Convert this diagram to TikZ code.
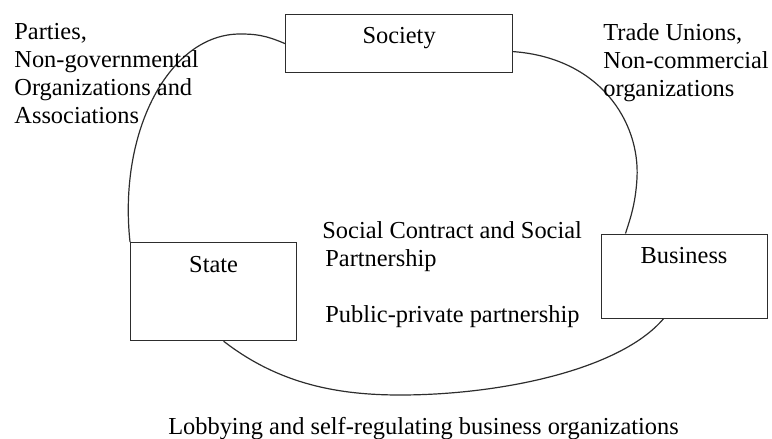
\documentclass[tikz,border=0pt]{standalone}
\usepackage{fontspec}
\setmainfont{Liberation Serif}
\usetikzlibrary{positioning}
\definecolor{linegray}{RGB}{45, 45, 45}
\tikzset{
  actorbox/.style={draw=linegray, line width=0.6pt, inner sep=0pt, anchor=north west, text height=14.5pt, minimum width=83pt},
  notetext/.style={anchor=north west, inner sep=0pt, align=left},
  linkcurve/.style={draw=linegray, line width=0.6pt},
}

\begin{document}
\begin{tikzpicture}[x=0.5pt, y=-0.5pt, every node/.style={font=\fontsize{12.2}{14}\selectfont}]
  \useasboundingbox (0,0) rectangle (772,439);
  \node[actorbox, minimum width=113.5pt, text depth=14.5pt] (soc) at (285,14) {Society};
  \node[actorbox, text height=15pt, text depth=34pt] (state) at (130,242) {State};
  \node[actorbox, text depth=27.5pt] (bus) at (600.5,233.5) {Business};
  % links round the three actors
  \draw[linkcurve] (soc.west) .. controls (265,35) and (255,34) .. (240,34)
    .. controls (170,34) and (118,130) .. (state.north west);
  \draw[linkcurve] ([yshift=-4pt]soc.east) .. controls (600,58) and (640,122) .. (637,178)
    .. controls (635.5,206) and (629,222) .. ([xshift=12.5pt]bus.north west);
  \draw[linkcurve] ([xshift=5pt]state.south) .. controls (280,385) and (340,395) .. (400,395)
    .. controls (500,395) and (620,370) .. ([xshift=31.5pt]bus.south west);
  \node[notetext] (parties) at (14,23.4) {Parties,\\Non-governmental\\Organizations and\\Associations};
  \node[notetext] (unions) at (603,23.4) {Trade Unions,\\Non-commercial\\organizations};
  \node[notetext] (contract) at (322,221.4) {Social Contract and Social\\\hspace*{1.5pt}Partnership};
  \node[notetext] (ppp) at (325,305.4) {Public-private partnership};
  \node[anchor=base, inner sep=0pt] (lobby) at (423.5,434) {Lobbying and self-regulating business organizations};
\end{tikzpicture}
\end{document}
